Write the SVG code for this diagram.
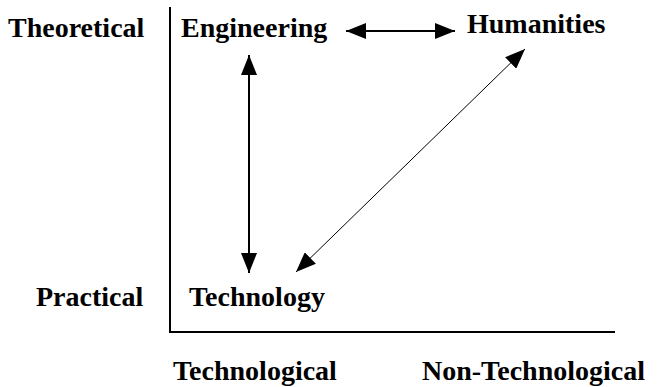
<svg xmlns="http://www.w3.org/2000/svg" width="659" height="387" viewBox="0 0 659 387">
  <style>
    text { font-family: 'Liberation Serif', 'DejaVu Serif', serif; font-weight: 700; font-size: 28px; fill: #000; }
    .axis { stroke: #000; stroke-width: 2; fill: none; }
    .link { stroke: #000; stroke-width: 2; fill: none; }
    .thin { stroke: #000; stroke-width: 1; fill: none; }
  </style>
  <defs>
    <marker id="head" viewBox="0 0 20 16" refX="20" refY="8" markerWidth="20" markerHeight="16" markerUnits="userSpaceOnUse" orient="auto-start-reverse">
      <path d="M0,0 L20,8 L0,16 Z" fill="#000"/>
    </marker>
  </defs>

  <!-- axes -->
  <g id="axes">
    <line class="axis" x1="170" y1="7" x2="170" y2="332"/>
    <line class="axis" x1="169" y1="332" x2="615" y2="332"/>
  </g>

  <!-- axis labels -->
  <g id="labels">
    <text x="8" y="37">Theoretical</text>
    <text x="36" y="306">Practical</text>
    <text x="173" y="380">Technological</text>
    <text x="422" y="380">Non-Technological</text>
  </g>

  <g id="engineering"><text x="181" y="37">Engineering</text></g>
  <g id="humanities"><text x="467" y="33">Humanities</text></g>
  <g id="technology"><text x="189" y="306">Technology</text></g>

  <!-- connectors -->
  <g id="connectors">
    <line class="link" x1="249" y1="55" x2="249" y2="273" marker-start="url(#head)" marker-end="url(#head)"/>
    <line class="link" x1="346" y1="31" x2="455" y2="31" marker-start="url(#head)" marker-end="url(#head)"/>
    <line class="thin" x1="296" y1="272" x2="525" y2="49" marker-start="url(#head)" marker-end="url(#head)"/>
  </g>
</svg>
